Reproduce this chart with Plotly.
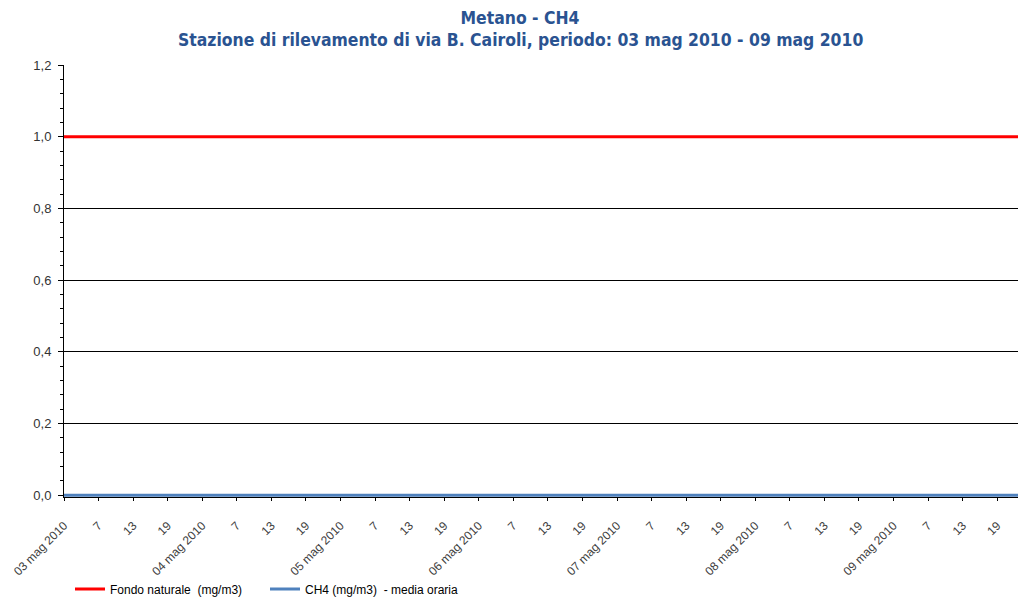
import pandas as pd
import plotly.graph_objects as go

# Hourly timestamps (03 mag 2010 01:00 -> 10 mag 2010 00:00)
times = pd.date_range("2010-05-03 01:00", "2010-05-10 00:00", freq="h")
fondo_naturale = [1.0] * len(times)   # mg/m3
ch4_media_oraria = [0.0] * len(times)  # mg/m3

day_labels = ["03 mag 2010", "04 mag 2010", "05 mag 2010", "06 mag 2010",
              "07 mag 2010", "08 mag 2010", "09 mag 2010"]
hour_labels = ["7", "13", "19"]

title_line1 = "Metano - CH4"
title_line2 = "Stazione di rilevamento di via B. Cairoli, periodo: 03 mag 2010 - 09 mag 2010"

tickvals = []
ticktext = []
for i, d in enumerate(day_labels):
    base = times[0] + pd.Timedelta(days=i)
    tickvals.append(base)
    ticktext.append(d)
    for j, h in enumerate(hour_labels):
        tickvals.append(base + pd.Timedelta(hours=6 * (j + 1)))
        ticktext.append(h)

TITLE_FONT = dict(family="DejaVu Sans Condensed, DejaVu Sans", size=17.4,
                  color="#2A5391", weight="bold")

# The page body adds an 8px offset, so the figure is 8px smaller on each axis.
W, H = 1018, 589
ML, MT, MB = 56, 57, 100
PH = H - MT - MB

fig = go.Figure()
fig.add_trace(go.Scatter(x=times, y=fondo_naturale, mode="lines",
                         name="Fondo naturale  (mg/m3)",
                         line=dict(color="#FF0000", width=3)))
fig.add_trace(go.Scatter(x=times, y=ch4_media_oraria, mode="lines",
                         name="CH4 (mg/m3)  - media oraria",
                         line=dict(color="#4F81BD", width=3)))

fig.update_layout(
    width=W, height=H,
    margin=dict(l=ML, r=0, t=MT, b=MB, autoexpand=False),
    paper_bgcolor="white", plot_bgcolor="white",
    title=dict(text=title_line1, x=(520 - 8) / W, xanchor="center",
               y=1 - 10 / H, yanchor="middle", font=TITLE_FONT),
    annotations=[dict(text=title_line2, xref="paper", yref="paper",
                      x=(520 - 8 - ML) / (W - ML), xanchor="center",
                      y=1 + (MT - 32) / PH, yanchor="middle",
                      showarrow=False, font=TITLE_FONT)],
    showlegend=True,
    legend=dict(orientation="h", x=(70 - 8 - ML) / (W - ML), xanchor="left",
                y=-(581 - 489) / PH, yanchor="middle",
                entrywidth=150, entrywidthmode="pixels",
                font=dict(family="Liberation Sans", size=12, color="#000000"),
                tracegroupgap=0, traceorder="normal", bgcolor="rgba(0,0,0,0)"),
    xaxis=dict(
        range=[times[0], times[-1]], automargin=False,
        tickmode="array", tickvals=tickvals, ticktext=ticktext,
        tickangle=-45, ticks="outside", ticklen=3, tickcolor="#000000",
        ticklabelstandoff=13,
        tickfont=dict(family="Liberation Sans", size=12, color="#404040"),
        showgrid=False, zeroline=False, showline=True, linecolor="#000000", linewidth=1,
    ),
    yaxis=dict(
        range=[-0.005, 1.2], tickmode="linear", tick0=0, dtick=0.2, automargin=False,
        tickformat=".1f",
        ticks="outside", ticklen=5, tickcolor="#000000", ticklabelstandoff=4,
        tickfont=dict(family="Liberation Sans", size=13, color="#333333"),
        showgrid=True, gridcolor="#000000", gridwidth=1,
        zeroline=False, showline=True, linecolor="#000000", linewidth=1,
        minor=dict(dtick=0.04, tick0=0, ticks="outside", ticklen=3, tickcolor="#000000", showgrid=False),
    ),
    separators=",.",
)

fig.write_html("out.html")
